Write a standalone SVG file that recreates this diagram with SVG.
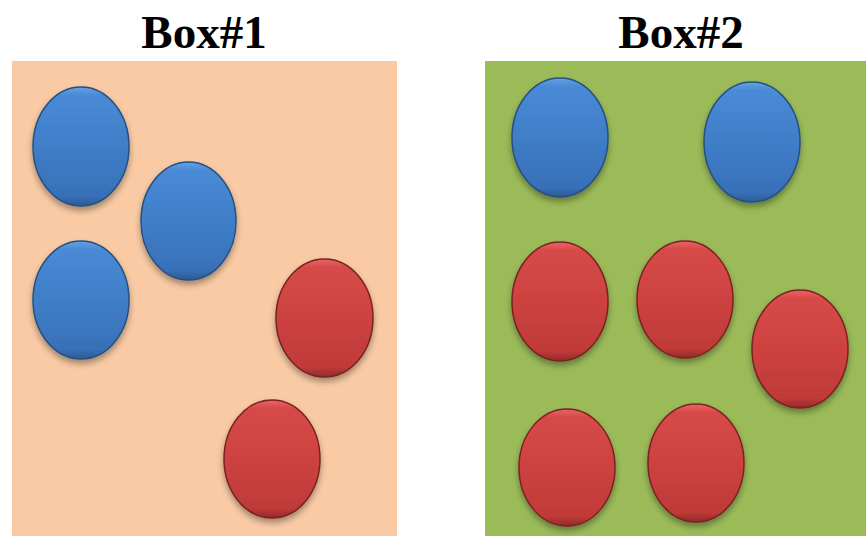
<svg xmlns="http://www.w3.org/2000/svg" width="866" height="536" viewBox="0 0 866 536">
<style>
.title{font-family:"Liberation Serif","Times New Roman",serif;font-weight:bold;font-size:47px;fill:#000;text-anchor:middle}
.blue{fill:url(#gb);stroke:#25507f;stroke-width:1.5;filter:url(#sh)}
.red{fill:url(#gr);stroke:#7a2222;stroke-width:1.5;filter:url(#sh)}
</style>
<defs>
<linearGradient id="gb" x1="0" y1="0" x2="0" y2="1">
<stop offset="0" stop-color="#64a2e6"/>
<stop offset="0.07" stop-color="#4a8ad6"/>
<stop offset="0.5" stop-color="#3f7ec8"/>
<stop offset="0.92" stop-color="#3870b8"/>
<stop offset="1" stop-color="#2c5a95"/>
</linearGradient>
<linearGradient id="gr" x1="0" y1="0" x2="0" y2="1">
<stop offset="0" stop-color="#e86666"/>
<stop offset="0.07" stop-color="#d64a48"/>
<stop offset="0.5" stop-color="#cd4240"/>
<stop offset="0.92" stop-color="#bf3a38"/>
<stop offset="1" stop-color="#8f2a2a"/>
</linearGradient>
<filter id="sh" x="-20%" y="-20%" width="140%" height="150%">
<feGaussianBlur in="SourceAlpha" stdDeviation="3"/>
<feOffset dx="0" dy="4" result="b"/>
<feComponentTransfer><feFuncA type="linear" slope="0.35"/></feComponentTransfer>
<feMerge><feMergeNode/><feMergeNode in="SourceGraphic"/></feMerge>
</filter>
</defs>
<g id="box1">
<rect x="12" y="61" width="385" height="475" fill="#f9caa4"/>
<text class="title" x="204" y="48">Box#1</text>
<ellipse class="blue" cx="81" cy="146.5" rx="48" ry="59.5"/>
<ellipse class="blue" cx="188.5" cy="221" rx="47.5" ry="59"/>
<ellipse class="blue" cx="81" cy="300" rx="48" ry="59"/>
<ellipse class="red" cx="324.5" cy="318" rx="48.5" ry="59"/>
<ellipse class="red" cx="272" cy="459" rx="48" ry="59"/>
</g>
<g id="box2">
<rect x="485" y="61" width="381" height="475" fill="#9bbb59"/>
<text class="title" x="681" y="48">Box#2</text>
<ellipse class="blue" cx="560" cy="137.5" rx="48" ry="59.5"/>
<ellipse class="blue" cx="752" cy="142" rx="48" ry="60"/>
<ellipse class="red" cx="560" cy="301.5" rx="48" ry="59.5"/>
<ellipse class="red" cx="685" cy="299.5" rx="48" ry="58.5"/>
<ellipse class="red" cx="800" cy="349" rx="48" ry="59"/>
<ellipse class="red" cx="567" cy="467.5" rx="48" ry="58.5"/>
<ellipse class="red" cx="696" cy="463" rx="48" ry="59"/>
</g>
<g id="connectors"/>
</svg>
